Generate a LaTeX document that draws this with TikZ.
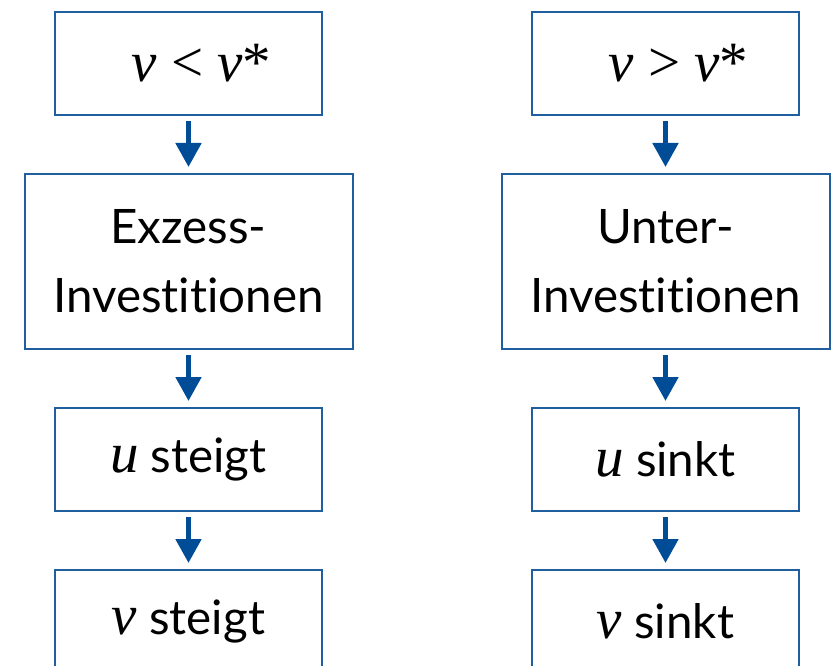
\documentclass[tikz,border=0pt]{standalone}
\usepackage{fontspec}
\setmainfont{Lato}[Ligatures=NoCommon]
\newfontfamily\varfont{Liberation Serif}
\usetikzlibrary{arrows.meta, positioning}
\definecolor{boxblue}{HTML}{1F5FA0}
\definecolor{arrowblue}{HTML}{004C97}
\newcommand{\vr}[1]{{\varfont\fontsize{57}{60}\selectfont\itshape #1}}
\newcommand{\rel}[1]{{\varfont\fontsize{57}{60}\selectfont\hspace{14pt}#1\hspace{14pt}}}

\begin{document}
\begin{tikzpicture}[x=1pt, y=-1pt, node distance=57pt, font=\fontsize{47.5}{69}\selectfont,
  box/.style={draw=boxblue, line width=2pt, align=center, inner sep=0pt, minimum width=267pt, minimum height=103pt},
  bigbox/.style={box, minimum width=328pt, minimum height=175pt},
  flow/.style={-{Triangle[length=24pt, width=25pt]}, arrowblue, line width=5pt, shorten <=5pt, shorten >=6pt}]
\useasboundingbox (0,0) rectangle (833,666);
\clip (0,0) rectangle (833,666);
% left column
\node[box] (l1) at (188.5,63.5) {\hspace{26pt}\vr{v}\rel{<}\vr{v}{\varfont\fontsize{57}{60}\selectfont*}};
\node[bigbox, below=of l1] (l2) {Exzess-\\Investitionen};
\node[box, below=of l2] (l3) {\vr{u} steigt};
\node[box, below=of l3] (l4) {\vr{v} steigt};
% right column
\node[box] (r1) at (665.5,63.5) {\hspace{26pt}\vr{v}\rel{>}\vr{v}{\varfont\fontsize{57}{60}\selectfont*}};
\node[bigbox, below=of r1] (r2) {Unter-\\Investitionen};
\node[box, below=of r2] (r3) {\vr{u} sinkt};
\node[box, below=of r3] (r4) {\vr{v} sinkt};
\draw[flow] (l1) -- (l2);
\draw[flow] (l2) -- (l3);
\draw[flow] (l3) -- (l4);
\draw[flow] (r1) -- (r2);
\draw[flow] (r2) -- (r3);
\draw[flow] (r3) -- (r4);
\end{tikzpicture}
\end{document}
